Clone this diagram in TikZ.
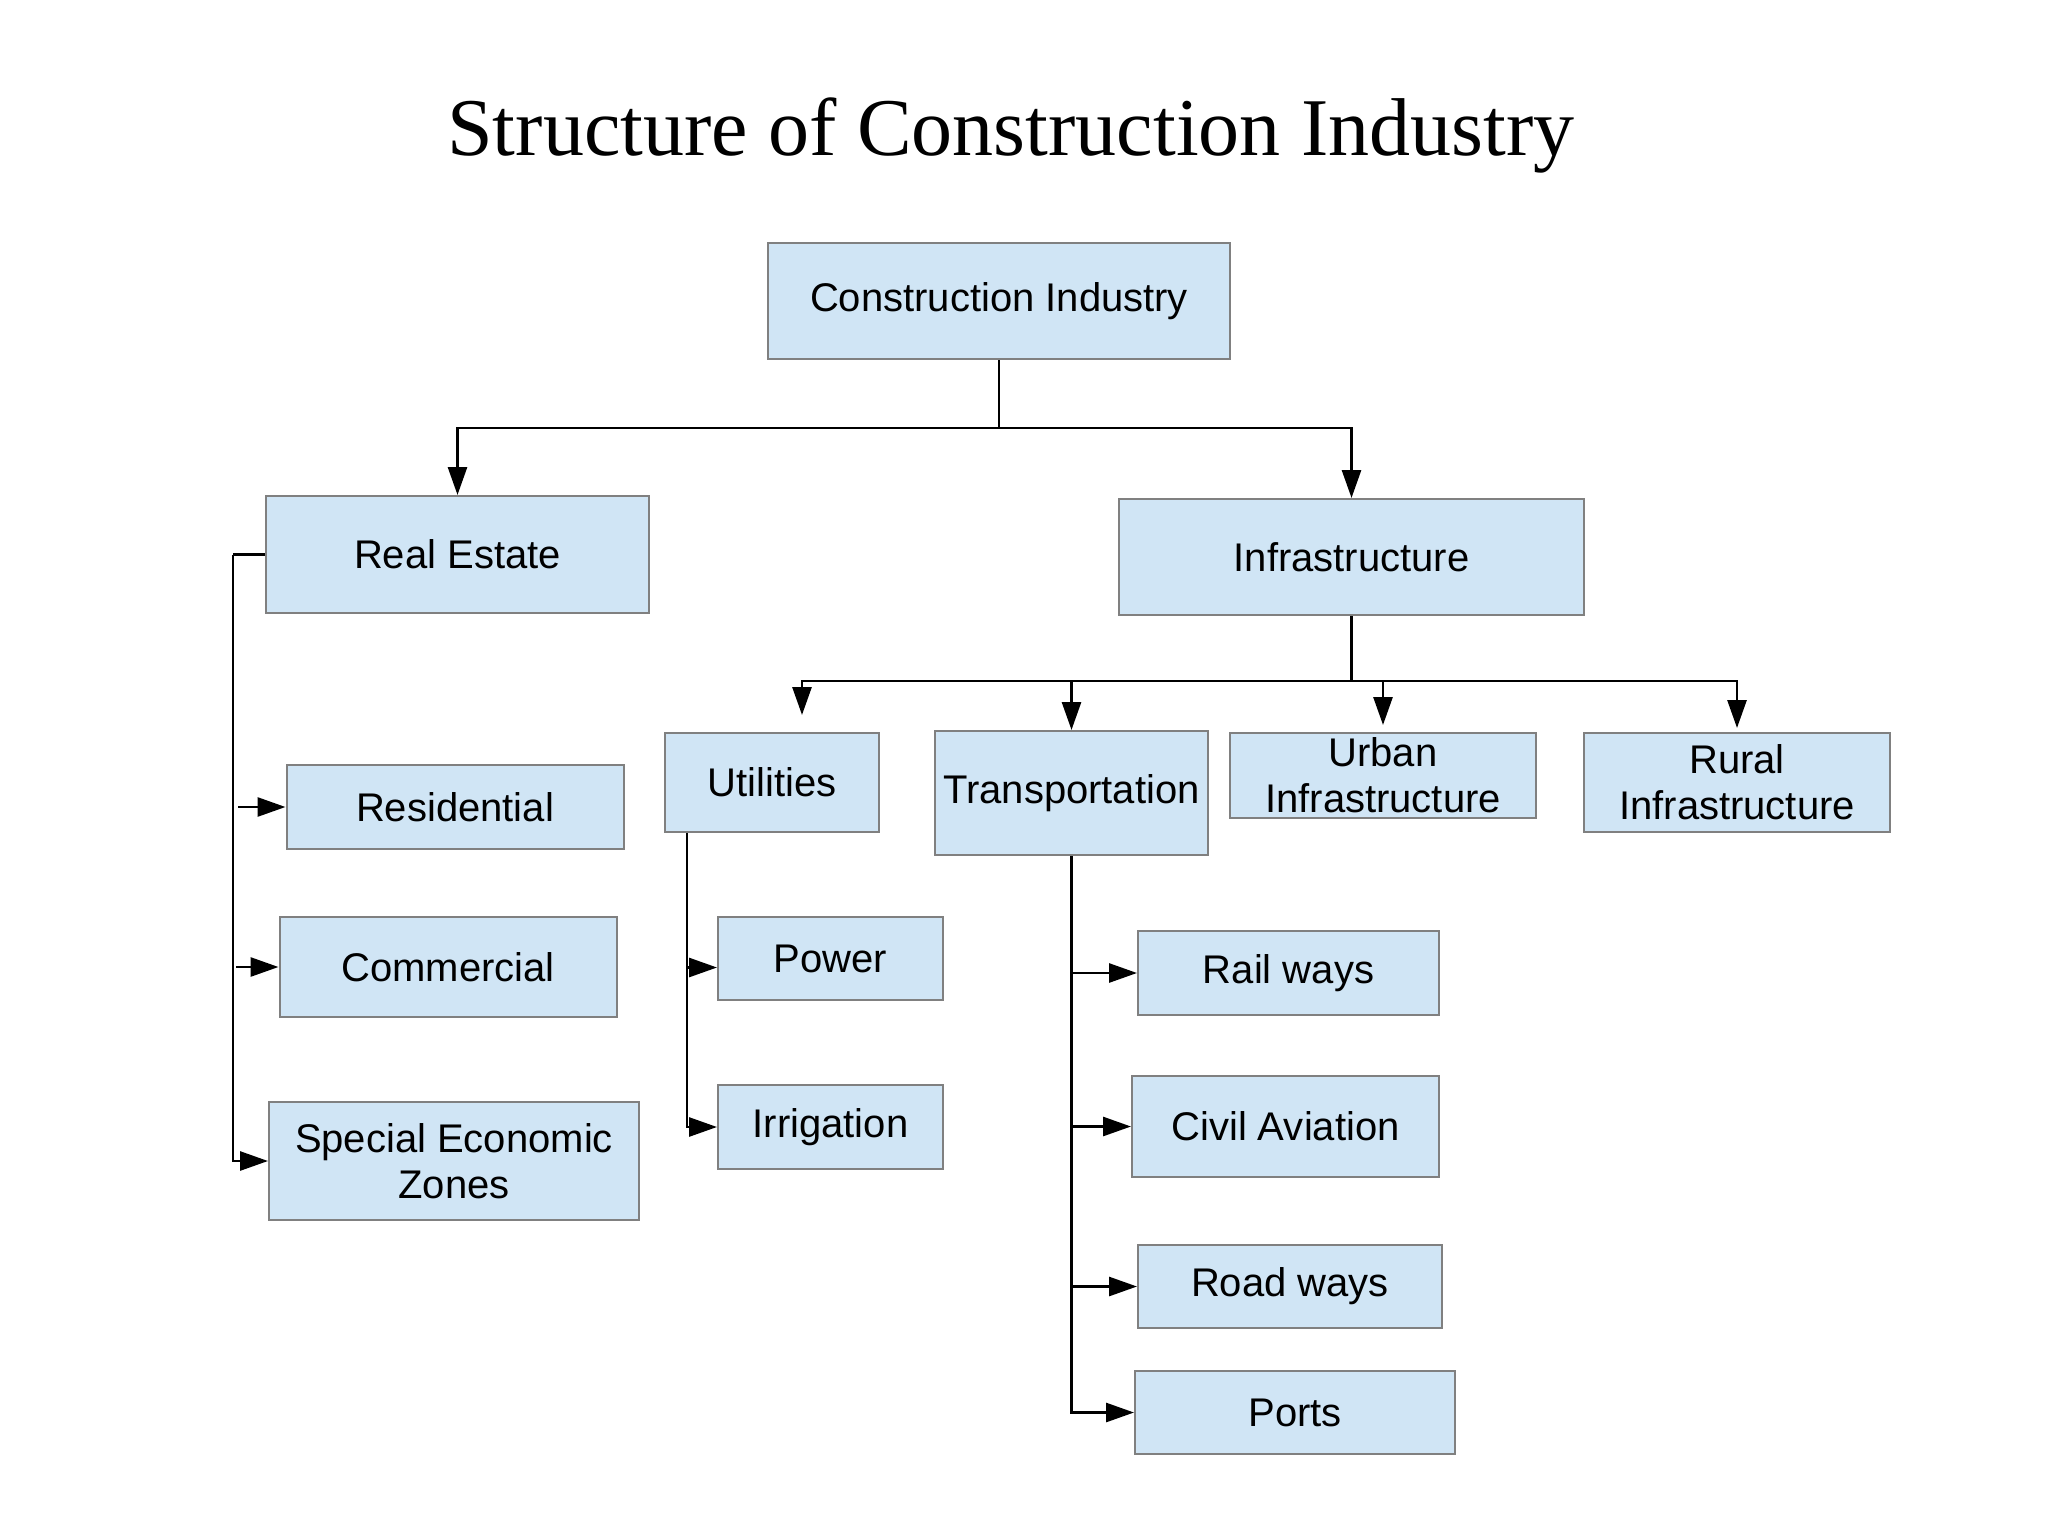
\documentclass[tikz,border=0pt]{standalone}
\usepackage{fontspec}
\setmainfont{Liberation Sans}
\newfontfamily\titlefont{Liberation Serif}
\usetikzlibrary{arrows.meta,positioning,calc}
\definecolor{boxfill}{RGB}{208,229,245}
\definecolor{boxline}{RGB}{128,128,128}

\begin{document}
\begin{tikzpicture}[x=0.5pt, y=-0.5pt,
  every node/.style = {font=\fontsize{20}{23}\selectfont},
  box/.style   = {rectangle, draw=boxline, line width=1pt, fill=boxfill,
                  inner sep=0pt, align=center},
  line/.style  = {line width=1.4pt, black},
  arrow/.style = {line, -{Triangle[length=14pt, width=9.5pt]}},
]
  \fill[white] (0,0) rectangle (2048,1535);
  \useasboundingbox (0,0) rectangle (2048,1535);

  \node[font=\titlefont\fontsize{41}{48}\selectfont] (title) at (1011,135)
    {Structure of Construction Industry};

  \node[box, minimum width=231pt, minimum height=58pt] (ci) at (999,301)
    {Construction Industry};
  \node[box, minimum width=191.5pt, minimum height=58.5pt] (re) at (457.5,554.5)
    {Real Estate};
  \node[box, minimum width=232.5pt, minimum height=58pt] (infra) at (1351.5,557)
    {Infrastructure};

  % real estate branch
  \node[box, minimum width=168.5pt, minimum height=42pt] (res) at (455,807)
    {Residential};
  \node[box, minimum width=168.5pt, minimum height=50pt] (com) at (448,967)
    {Commercial};
  \node[box, minimum width=185pt, minimum height=59pt] (sez) at (454,1161)
    {Special Economic\\Zones};

  % infrastructure branch
  \node[box, minimum width=107pt, minimum height=49.5pt] (util) at (772,782.5)
    {Utilities};
  \node[box, minimum width=136.5pt, minimum height=62pt] (trans) at (1071.5,793)
    {Transportation};
  \node[box, minimum width=153pt, minimum height=42.5pt] (urban) at (1383,775.5)
    {Urban\\Infrastructure};
  \node[box, minimum width=153pt, minimum height=49.5pt] (rural) at (1737,782.5)
    {Rural\\Infrastructure};

  \node[box, minimum width=112.5pt, minimum height=41.5pt] (power) at (830.5,958.5)
    {Power};
  \node[box, minimum width=112.5pt, minimum height=42pt] (irr) at (830.5,1127)
    {Irrigation};

  \node[box, minimum width=150.5pt, minimum height=42pt] (rail) at (1288.5,973)
    {Rail ways};
  \node[box, minimum width=153.5pt, minimum height=50.5pt] (civil) at (1285.5,1126.5)
    {Civil Aviation};
  \node[box, minimum width=152pt, minimum height=41.5pt] (road) at (1290,1286.5)
    {Road ways};
  \node[box, minimum width=160pt, minimum height=41.5pt] (ports) at (1295,1412.5)
    {Ports};

  % top level
  \draw[line] (ci.south) -- ++(0,68) coordinate (cbus);
  \draw[arrow] (cbus) -| (re.north);
  \draw[arrow] (cbus) -| (infra.north);

  % real estate
  \draw[line] (re.west) -- ++(-32,0) coordinate (rtrunk);
  \draw[arrow] (rtrunk) |- (sez.west);
  \draw[arrow] ([xshift=2.5pt]rtrunk |- res.west) -- (res.west);
  \draw[arrow] ([xshift=1.5pt]rtrunk |- com.west) -- (com.west);

  % infrastructure
  \draw[line] (infra.south) -- ++(0,65) coordinate (ibus);
  \draw[arrow] (ibus) -| ([xshift=15pt, yshift=8.5pt]util.north);
  \draw[arrow] (ibus) -| (trans.north);
  \draw[arrow] (ibus) -| ([yshift=3.5pt]urban.north);
  \draw[arrow] (ibus) -| ([yshift=2pt]rural.north);

  % utilities
  \coordinate (utrunk) at ([xshift=11.5pt]util.south west);
  \draw[arrow] (utrunk) |- ([yshift=-4.5pt]power.west);
  \draw[arrow] (utrunk) |- (irr.west);

  % transportation
  \draw[arrow] (trans.south) |- (ports.west);
  \draw[arrow] (trans.south |- rail.west) -- (rail.west);
  \draw[arrow] (trans.south |- civil.west) -- (civil.west);
  \draw[arrow] (trans.south |- road.west) -- (road.west);
\end{tikzpicture}
\end{document}
